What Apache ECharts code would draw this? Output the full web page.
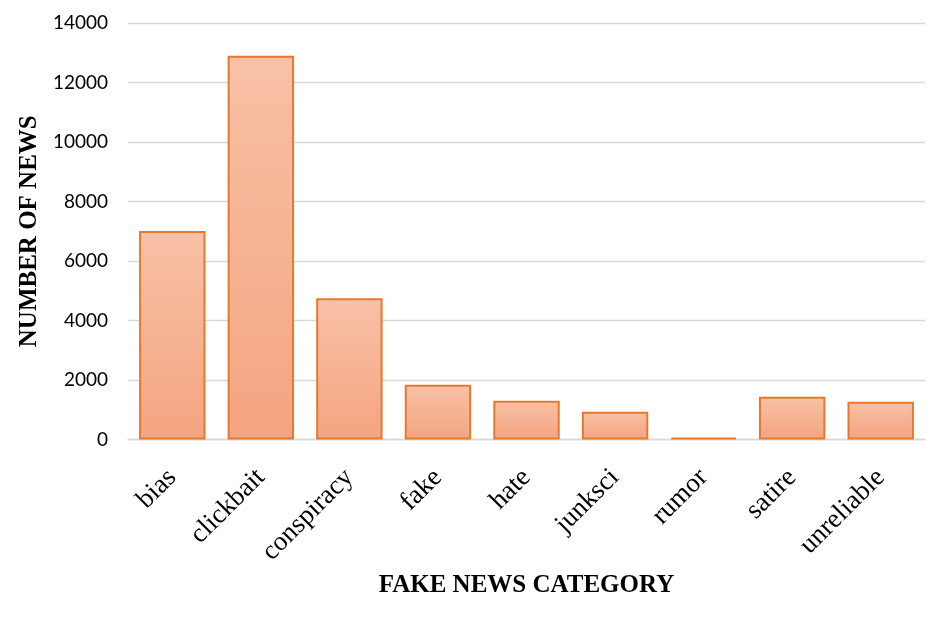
<!DOCTYPE html>
<html><head><meta charset="utf-8">
<script src="https://cdn.jsdelivr.net/npm/echarts@6/dist/echarts.min.js"></script>
<style>html,body{margin:0;padding:0;background:#fff}#c{width:949px;height:631px}</style>
</head><body><div id="c"></div>
<script>
const categories = ['bias','clickbait','conspiracy','fake','hate','junksci','rumor','satire','unreliable'];
const counts = [7010, 12900, 4750, 1840, 1300, 930, 60, 1440, 1270];
const yTicks = {min: 0, max: 14000, interval: 2000};

const chart = echarts.init(document.getElementById('c'));
chart.setOption({
  animation: false,
  grid: {left: 128, right: 24, top: 23, bottom: 191.5},
  xAxis: {
    type: 'category', data: categories,
    axisLine: {lineStyle: {color: '#D9D9D9', width: 1.3}},
    axisTick: {show: false},
    axisLabel: {rotate: 45, margin: 34, fontFamily: 'Liberation Serif', fontSize: 27, color: '#000', interval: 0},
    name: 'FAKE NEWS CATEGORY', nameLocation: 'middle', nameGap: 133,
    nameTextStyle: {fontFamily: 'Liberation Serif', fontWeight: 'bold', fontSize: 25, color: '#000'}
  },
  yAxis: {
    type: 'value', min: yTicks.min, max: yTicks.max, interval: yTicks.interval,
    axisLine: {show: false}, axisTick: {show: false},
    splitLine: {lineStyle: {color: '#D9D9D9', width: 1.3}},
    axisLabel: {margin: 20, fontFamily: 'Lato', fontSize: 19, color: '#000', formatter: v => String(v)},
    name: 'NUMBER OF NEWS', nameLocation: 'middle', nameGap: 78,
    nameTextStyle: {fontFamily: 'Liberation Serif', fontWeight: 'bold', fontSize: 25, color: '#000'}
  },
  series: [{
    type: 'bar', data: counts, barCategoryGap: '25%',
    itemStyle: {
      color: new echarts.graphic.LinearGradient(0, 0, 0, 1, [
        {offset: 0, color: '#F8C1A6'}, {offset: 1, color: '#F4A480'}
      ]),
      borderColor: '#E8782E', borderWidth: 2
    }
  }]
});
</script></body></html>
